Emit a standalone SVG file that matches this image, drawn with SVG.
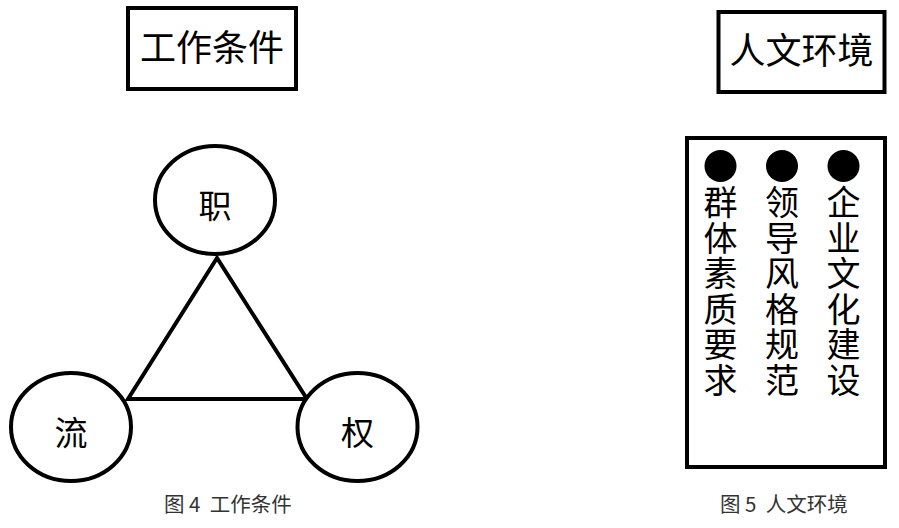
<svg xmlns="http://www.w3.org/2000/svg" width="899" height="528" viewBox="0 0 899 528">
<style>
.box{fill:#fff;stroke:#000;stroke-width:4}
.ell{fill:#fff;stroke:#000;stroke-width:4}
.edge{fill:none;stroke:#000;stroke-width:4;stroke-linejoin:miter}
.t{font-family:"Noto Sans CJK SC","Noto Sans",sans-serif;fill:#000;text-anchor:middle}
.title{font-size:36px}
.lbl{font-size:33px}
.col{font-family:"Noto Sans CJK SC","Noto Sans",sans-serif;fill:#000;font-size:34px;writing-mode:vertical-rl;letter-spacing:1.6px}
.cap{font-family:"Noto Sans CJK SC","Noto Sans",sans-serif;font-size:20.5px;fill:#333}
</style>
<rect width="899" height="528" fill="#fff"/>
<g id="connectors">
<path class="edge" d="M217,258 L128,399 L307,399 Z"/>
</g>
<g id="title-work">
<rect class="box" x="128" y="8" width="168" height="81"/>
<text class="t title" x="212" y="61">工作条件</text>
</g>
<g id="node-zhi">
<ellipse class="ell" cx="215" cy="200" rx="60" ry="54"/>
<text class="t lbl" x="215" y="218">职</text>
</g>
<g id="node-liu">
<ellipse class="ell" cx="71" cy="427" rx="60" ry="54"/>
<text class="t lbl" x="71" y="445">流</text>
</g>
<g id="node-quan">
<ellipse class="ell" cx="357.5" cy="427" rx="60" ry="54"/>
<text class="t lbl" x="357.5" y="445">权</text>
</g>
<g id="caption-4">
<text class="cap" x="164" y="512" xml:space="preserve">图 4  工作条件</text>
</g>
<g id="title-human">
<rect class="box" x="718.5" y="12" width="166" height="80"/>
<text class="t title" x="801.5" y="64">人文环境</text>
</g>
<g id="panel-human">
<rect class="box" x="687" y="138" width="198" height="329"/>
<circle cx="720.5" cy="166" r="16" fill="#000"/>
<circle cx="782" cy="166" r="16" fill="#000"/>
<circle cx="843.5" cy="166" r="16" fill="#000"/>
<text class="col" x="720.5" y="185">群体素质要求</text>
<text class="col" x="782" y="185">领导风格规范</text>
<text class="col" x="843.5" y="185">企业文化建设</text>
</g>
<g id="caption-5">
<text class="cap" x="720" y="512" xml:space="preserve">图 5  人文环境</text>
</g>
</svg>
